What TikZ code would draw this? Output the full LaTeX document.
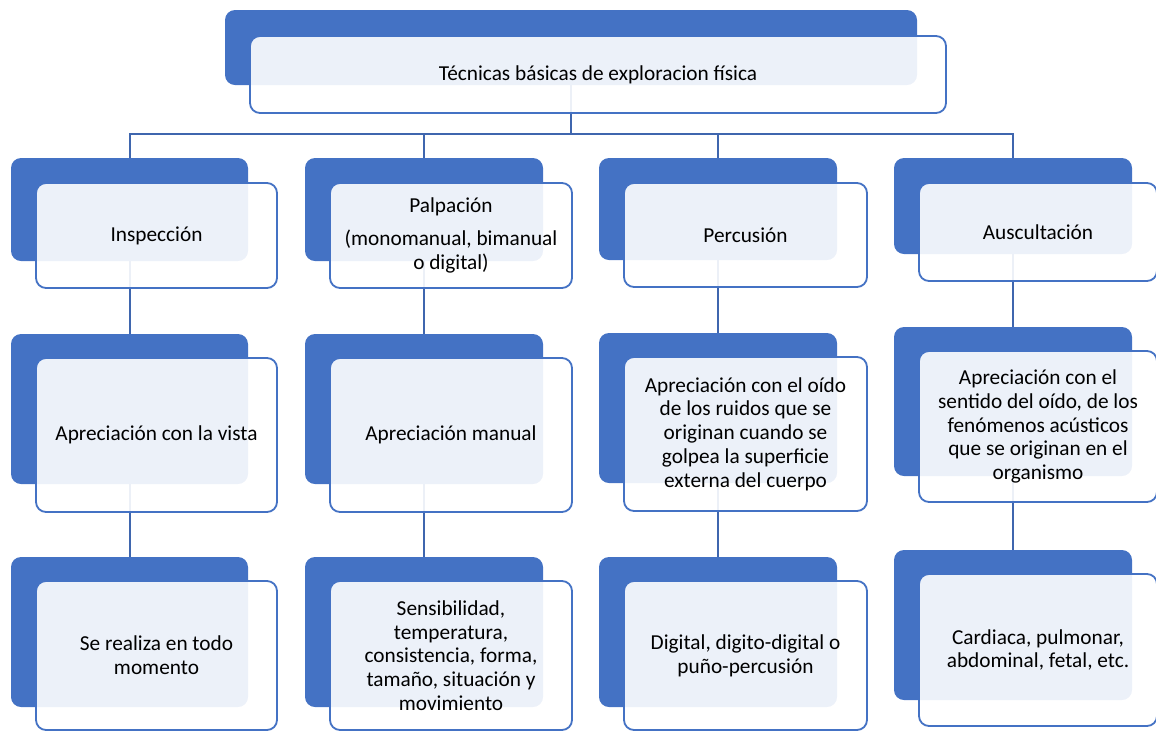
\documentclass[tikz,border=0pt]{standalone}
\usepackage{fontspec}
\setmainfont{Carlito}
\usetikzlibrary{backgrounds}
\definecolor{bblue}{HTML}{4472C4}
\definecolor{conn}{HTML}{3F66AE}
\newcommand\backbox[5]{%
  \node[backshape, minimum width={(#4-#2)*1pt}, minimum height={(#5-#3)*1pt}] (#1) at ({(#2+#4)/2},{(#3+#5)/2}) {};}
\newcommand\frontbox[6]{%
  \node[frontshape, minimum width={(#4-#2)*1pt}, minimum height={(#5-#3)*1pt}] (#1) at ({(#2+#4)/2},{(#3+#5)/2}) {#6};}
\begin{document}
\begin{tikzpicture}[x=1pt,y=-1pt,
  backshape/.style={fill=bblue, draw=none, rounded corners=10pt, inner sep=0pt},
  frontshape/.style={fill=white, fill opacity=0.9, text opacity=1, draw=bblue, draw opacity=1,
    line width=1.8pt, rounded corners=10pt, inner sep=0pt, align=center,
    font=\fontsize{21.3}{23.8}\selectfont, text=black},
  link/.style={draw=conn, line width=2pt}]
\useasboundingbox (0,0) rectangle (1156,732);

% top
\backbox{tb}{225}{10}{917}{85}
\frontbox{tf}{250}{36}{946}{113}{Técnicas básicas de exploracion física}

% column 1
\backbox{a1b}{11}{158}{248}{261}
\frontbox{a1f}{36}{183}{277}{288}{Inspección}
\backbox{a2b}{11}{334}{248}{484}
\frontbox{a2f}{36}{358}{277}{512}{Apreciación con la vista}
\backbox{a3b}{11}{557}{248}{707}
\frontbox{a3f}{36}{581}{277}{730}{Se realiza en todo\\momento}

% column 2
\backbox{b1b}{305}{158}{543}{261}
\frontbox{b1f}{330}{183}{572}{288}{Palpación\\[9pt](monomanual, bimanual\\o digital)}
\backbox{b2b}{305}{334}{543}{484}
\frontbox{b2f}{330}{358}{572}{512}{Apreciación manual}
\backbox{b3b}{305}{557}{543}{707}
\frontbox{b3f}{330}{581}{572}{730}{Sensibilidad,\\temperatura,\\consistencia, forma,\\tamaño, situación y\\movimiento}

% column 3
\backbox{c1b}{599}{158}{837}{260}
\frontbox{c1f}{624}{183}{867}{287}{Percusión}
\backbox{c2b}{599}{333}{837}{483}
\frontbox{c2f}{624}{357}{867}{511}{Apreciación con el oído\\de los ruidos que se\\originan cuando se\\golpea la superficie\\externa del cuerpo}
\backbox{c3b}{599}{557}{837}{707}
\frontbox{c3f}{624}{581}{867}{730}{Digital, digito-digital o\\puño-percusión}

% column 4
\backbox{d1b}{894}{158}{1132}{254}
\frontbox{d1f}{919}{183}{1157}{281}{Auscultación}
\backbox{d2b}{894}{327}{1132}{476}
\frontbox{d2f}{919}{351}{1157}{502}{Apreciación con el\\sentido del oído, de los\\fenómenos acústicos\\que se originan en el\\organismo}
\backbox{d3b}{894}{550}{1132}{700}
\frontbox{d3f}{919}{574}{1157}{726}{Cardiaca, pulmonar,\\abdominal, fetal, etc.}

\coordinate (bar) at (571,134);
\begin{pgfonlayer}{background}
  \draw[link] (tb.south) -- (bar);
  \draw[link] (bar) -| (a1b.north);
  \draw[link] (bar) -| (b1b.north);
  \draw[link] (bar) -| (c1b.north);
  \draw[link] (bar) -| (d1b.north);
  \draw[link] (a1b.south) -- (a2b.north);
  \draw[link] (a2b.south) -- (a3b.north);
  \draw[link] (b1b.south) -- (b2b.north);
  \draw[link] (b2b.south) -- (b3b.north);
  \draw[link] (c1b.south) -- (c2b.north);
  \draw[link] (c2b.south) -- (c3b.north);
  \draw[link] (d1b.south) -- (d2b.north);
  \draw[link] (d2b.south) -- (d3b.north);
\end{pgfonlayer}
\end{tikzpicture}
\end{document}
